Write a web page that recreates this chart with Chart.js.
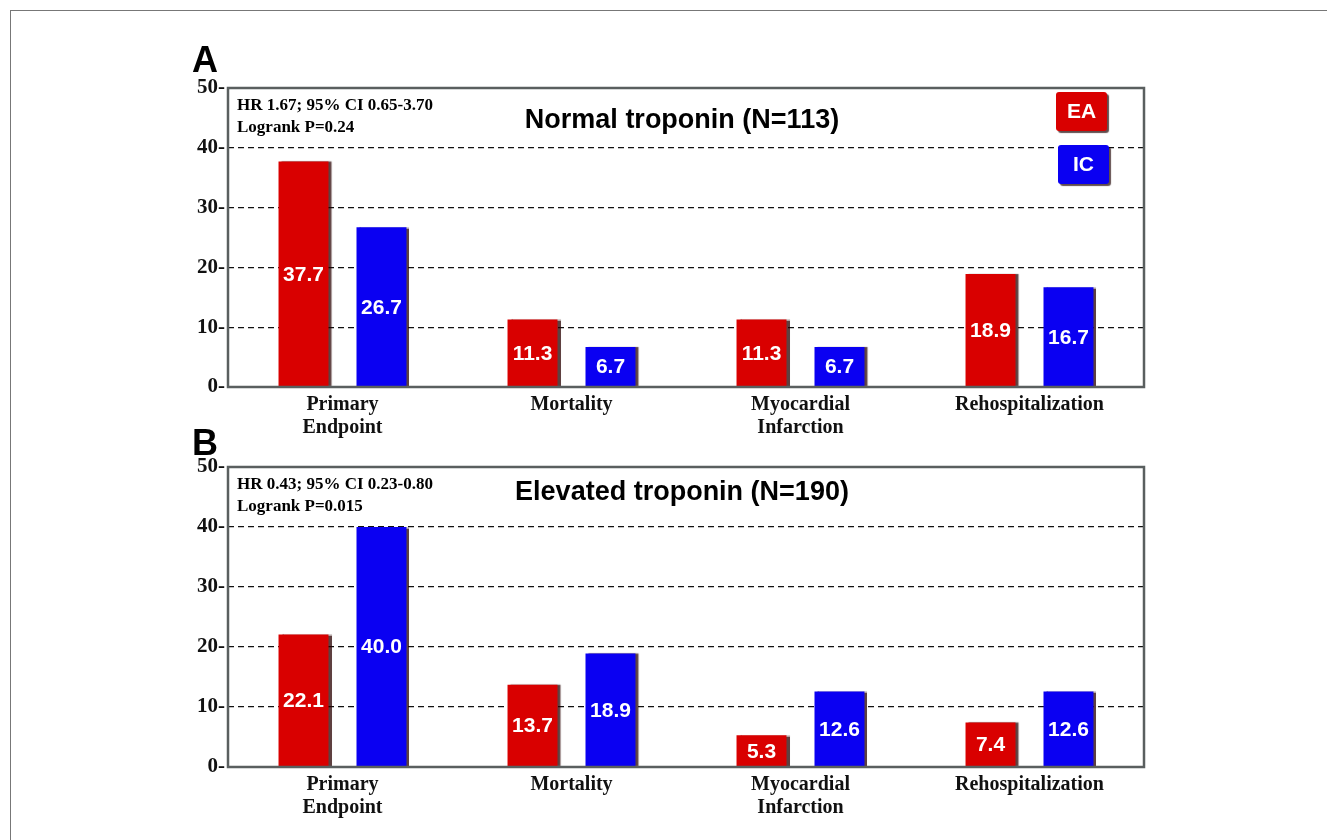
<!DOCTYPE html>
<html>
<head>
<meta charset="utf-8">
<title>Troponin outcomes</title>
<script src="https://cdn.jsdelivr.net/npm/chart.js@4.4.0/dist/chart.umd.min.js"></script>
<style>
    body { margin: 0; background: #fff; }
    #frame { position: absolute; left: 10px; top: 10px; width: 1317px; height: 830px;
             border-left: 1px solid #777; border-top: 1px solid #777; box-sizing: border-box; }
    canvas { position: absolute; left: 0; }
    #chartA { top: 40px; }
    #chartB { top: 420px; }
</style>
</head>
<body>
<div id="frame"></div>
<canvas id="chartA" width="1327" height="420"></canvas>
<canvas id="chartB" width="1327" height="410"></canvas>
<script>
var categories = [["Primary", "Endpoint"], "Mortality", ["Myocardial", "Infarction"], "Rehospitalization"];
var yTicks = [0, 10, 20, 30, 40, 50];

// normal troponin (N=113)
var normalEA = [37.7, 11.3, 11.3, 18.9];
var normalIC = [26.7, 6.7, 6.7, 16.7];

// elevated troponin (N=190)
var elevatedEA = [22.1, 13.7, 5.3, 7.4];
var elevatedIC = [40.0, 18.9, 12.6, 12.6];

var RED = "#d90000";
var BLUE = "#0a00f2";
var SANS = "'Liberation Sans', Arial, Helvetica, sans-serif";
var SERIF = "'Liberation Serif', 'Times New Roman', serif";

function legendBox(ctx, x, y, w, h, color, text) {
    ctx.save();
    ctx.shadowColor = "rgba(30,0,0,0.7)";
    ctx.shadowOffsetX = 2;
    ctx.shadowOffsetY = 2;
    ctx.shadowBlur = 1;
    ctx.fillStyle = color;
    ctx.beginPath();
    ctx.roundRect(x, y, w, h, 3);
    ctx.fill();
    ctx.restore();
    ctx.fillStyle = "#fff";
    ctx.font = "bold 21px " + SANS;
    ctx.textAlign = "center";
    ctx.textBaseline = "middle";
    ctx.fillText(text, x + w / 2, y + h / 2 + 1);
}

var panelDeco = {
    id: "panelDeco",
    beforeDatasetsDraw: function (chart) {
        // dark edge on the right of each bar
        var ctx = chart.ctx;
        ctx.save();
        ctx.shadowColor = "rgba(40,0,0,0.75)";
        ctx.shadowOffsetX = 3;
        ctx.shadowOffsetY = 0;
        ctx.shadowBlur = 1;
    },
    afterDatasetsDraw: function (chart, args, opts) {
        var ctx = chart.ctx;
        var area = chart.chartArea;
        ctx.restore();

        // values inside the bars
        ctx.save();
        ctx.fillStyle = "#fff";
        ctx.font = "bold 21px " + SANS;
        ctx.textAlign = "center";
        ctx.textBaseline = "middle";
        chart.data.datasets.forEach(function (ds, i) {
            chart.getDatasetMeta(i).data.forEach(function (bar, j) {
                ctx.fillText(ds.data[j].toFixed(1), bar.x, (bar.y + bar.base) / 2 + 1);
            });
        });

        // plot frame
        ctx.strokeStyle = "#5a5f5f";
        ctx.lineWidth = 2.5;
        ctx.strokeRect(area.left, area.top, area.right - area.left, area.bottom - area.top);

        // panel letter
        ctx.fillStyle = "#000";
        ctx.textAlign = "left";
        ctx.textBaseline = "alphabetic";
        ctx.font = "bold 36px " + SANS;
        ctx.fillText(opts.letter, 192, area.top + opts.letterY);

        // hazard ratio text
        ctx.font = "bold 17px " + SERIF;
        ctx.fillText(opts.stats[0], area.left + 9, area.top + 22);
        ctx.fillText(opts.stats[1], area.left + 9, area.top + 44);

        // panel title
        ctx.textAlign = "center";
        ctx.textBaseline = "middle";
        ctx.font = "bold 27px " + SANS;
        ctx.fillText(opts.title, (area.left + area.right) / 2 - 4, area.top + opts.titleY);
        ctx.restore();

        if (opts.legend) {
            legendBox(ctx, area.right - 88, area.top + 4, 51, 39, RED, "EA");
            legendBox(ctx, area.right - 86, area.top + 57, 51, 39, BLUE, "IC");
        }
    }
};

function makeChart(id, ea, ic, deco, padBottom) {
    var ctx = document.getElementById(id).getContext("2d");
    return new Chart(ctx, {
        type: "bar",
        data: {
            labels: categories,
            datasets: [
                { label: "EA", data: ea, backgroundColor: RED },
                { label: "IC", data: ic, backgroundColor: BLUE }
            ]
        },
        options: {
            responsive: false,
            animation: false,
            categoryPercentage: 0.681,
            barPercentage: 0.641,
            layout: { padding: { left: 178, right: 183, top: deco.top, bottom: padBottom } },
            plugins: {
                legend: { display: false },
                tooltip: { enabled: false },
                panelDeco: deco
            },
            scales: {
                x: {
                    grid: { display: false },
                    border: { display: false },
                    afterFit: function (s) { s.height = 53; },
                    ticks: {
                        color: "#111",
                        padding: -2,
                        maxRotation: 0,
                        autoSkip: false,
                        font: { family: SERIF, size: 20, weight: "bold", lineHeight: 1.15 }
                    }
                },
                y: {
                    min: 0,
                    max: 50,
                    afterFit: function (s) { s.width = 50; },
                    afterBuildTicks: function (s) {
                        s.ticks = yTicks.map(function (v) { return { value: v }; });
                    },
                    grid: {
                        drawTicks: false,
                        lineWidth: 1.2,
                        color: function (c) {
                            return (c.tick && c.tick.value > 0 && c.tick.value < 50) ? "#111" : "rgba(0,0,0,0)";
                        }
                    },
                    border: { display: false, dash: [6, 4] },
                    ticks: {
                        color: "#111",
                        padding: 3,
                        callback: function (v) { return v + "-"; },
                        font: { family: SERIF, size: 21, weight: "bold" }
                    }
                }
            }
        },
        plugins: [panelDeco]
    });
}

makeChart("chartA", normalEA, normalIC, {
    top: 48,
    letter: "A",
    letterY: -16,
    title: "Normal troponin (N=113)",
    titleY: 33,
    stats: ["HR 1.67; 95% CI 0.65-3.70", "Logrank P=0.24"],
    legend: true
}, 20);

makeChart("chartB", elevatedEA, elevatedIC, {
    top: 47,
    letter: "B",
    letterY: -12,
    title: "Elevated troponin (N=190)",
    titleY: 26,
    stats: ["HR 0.43; 95% CI 0.23-0.80", "Logrank P=0.015"],
    legend: false
}, 10);
</script>
</body>
</html>
